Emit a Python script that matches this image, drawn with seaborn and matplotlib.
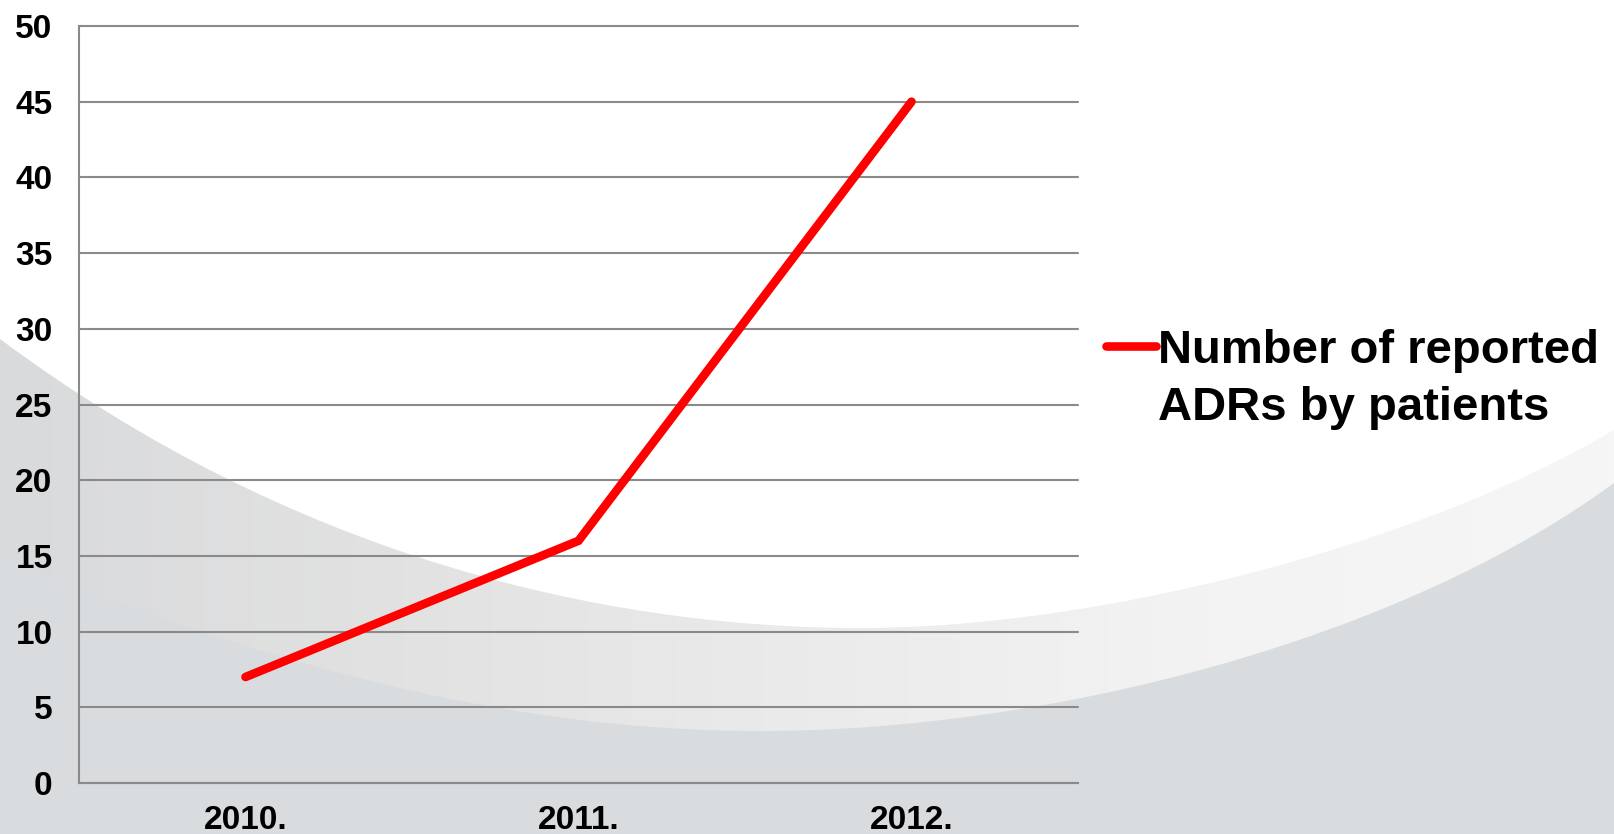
import numpy as np
import pandas as pd
import matplotlib
matplotlib.use("Agg")
import matplotlib.pyplot as plt
from matplotlib.path import Path
from matplotlib.patches import PathPatch
from matplotlib.colors import LinearSegmentedColormap
from matplotlib.transforms import IdentityTransform
import seaborn as sns

# ---- data -------------------------------------------------------------
years = ["2010.", "2011.", "2012."]
reported_adrs = [7, 16, 45]
series_label = ["Number of reported", "ADRs by patients"]
y_ticks = [0, 5, 10, 15, 20, 25, 30, 35, 40, 45, 50]

W, H, DPI = 1614, 834, 100
GRID = "#8a8a8a"
RED = "#ff0000"

sns.set_style("white")
plt.rcParams["font.family"] = ["Liberation Sans", "DejaVu Sans"]
plt.rcParams["font.weight"] = "bold"
plt.rcParams["text.color"] = "black"

fig = plt.figure(figsize=(W / DPI, H / DPI), dpi=DPI)
fig.patch.set_facecolor("white")

# ---- decorative slide background (pixel coordinates) ------------------
bg = fig.add_axes([0, 0, 1, 1], zorder=0)
bg.set_xlim(0, W)
bg.set_ylim(H, 0)
bg.axis("off")

M, C, L, X = Path.MOVETO, Path.CURVE4, Path.LINETO, Path.CLOSEPOLY
band_path = Path(
    [(0, 339), (290, 555), (600, 628), (861, 628),
     (1100, 628), (1420, 545), (1614, 430),
     (W, H), (0, H), (0, 339)],
    [M, C, C, C, C, C, C, L, L, X],
)
low_path = Path(
    [(0, 555), (250, 660), (500, 731), (760, 731),
     (1050, 731), (1400, 640), (1614, 483),
     (W, H), (0, H), (0, 555)],
    [M, C, C, C, C, C, C, L, L, X],
)

band_cmap = LinearSegmentedColormap.from_list(
    "band", ["#d9dadc", "#e2e2e2", "#ebebeb", "#f3f3f3", "#f6f6f6"]
)
grad = np.linspace(0, 1, 512)[None, :]
band_patch = PathPatch(band_path, facecolor="none", edgecolor="none")
bg.add_patch(band_patch)
img = bg.imshow(grad, cmap=band_cmap, extent=[0, W, H, 0], aspect="auto",
                interpolation="bilinear", zorder=1)
img.set_clip_path(band_patch)

bg.add_patch(PathPatch(low_path, facecolor="#d9dcdf", edgecolor="none", zorder=2))

# ---- chart --------------------------------------------------------------
ax = fig.add_axes([79 / W, 1 - 783 / H, (1078 - 79) / W, (783 - 26) / H], zorder=1)
ax.patch.set_alpha(0)

df = pd.DataFrame({"year": years, "adrs": reported_adrs})
sns.lineplot(data=df, x="year", y="adrs", ax=ax, color=RED, linewidth=6.2,
             sort=False, legend=False, solid_capstyle="round",
             solid_joinstyle="miter")

ax.set_xlim(-0.5, len(years) - 0.5)
ax.set_ylim(0, 50)
ax.set_yticks(y_ticks)
ax.set_xlabel("")
ax.set_ylabel("")

ax.yaxis.grid(True, color=GRID, linewidth=1.5)
ax.xaxis.grid(False)
for gl in ax.get_ygridlines():
    gl.set_clip_on(False)
for side in ("top", "right"):
    ax.spines[side].set_visible(False)
for side in ("left", "bottom"):
    ax.spines[side].set_color(GRID)
    ax.spines[side].set_linewidth(1.5)

ax.tick_params(axis="both", length=0, labelsize=24, colors="black")
ax.tick_params(axis="y", pad=19)
ax.tick_params(axis="x", pad=16)
for lab in ax.get_xticklabels() + ax.get_yticklabels():
    lab.set_fontweight("bold")
    lab.set_color("black")

# ---- legend ------------------------------------------------------------
handle = ax.get_lines()[0]
leg = ax.legend(
    [handle], [series_label[0]],
    loc="center left", bbox_to_anchor=(1106 / W, 1 - 351 / H),
    bbox_transform=fig.transFigure, frameon=False,
    prop={"size": 34, "weight": "bold"}, labelcolor="black",
    handlelength=1.06, handletextpad=0.05, borderpad=0, borderaxespad=0,
)
for lh in leg.get_lines():
    lh.set_linewidth(6.2)
    lh.set_solid_capstyle("round")

fig.canvas.draw()
bb = leg.get_texts()[0].get_window_extent()
fig.text(bb.x0, bb.y0 - 57, series_label[1], transform=IdentityTransform(),
         ha="left", va="bottom", fontsize=34, fontweight="bold", color="black")

fig.savefig("out.png", dpi=DPI)
